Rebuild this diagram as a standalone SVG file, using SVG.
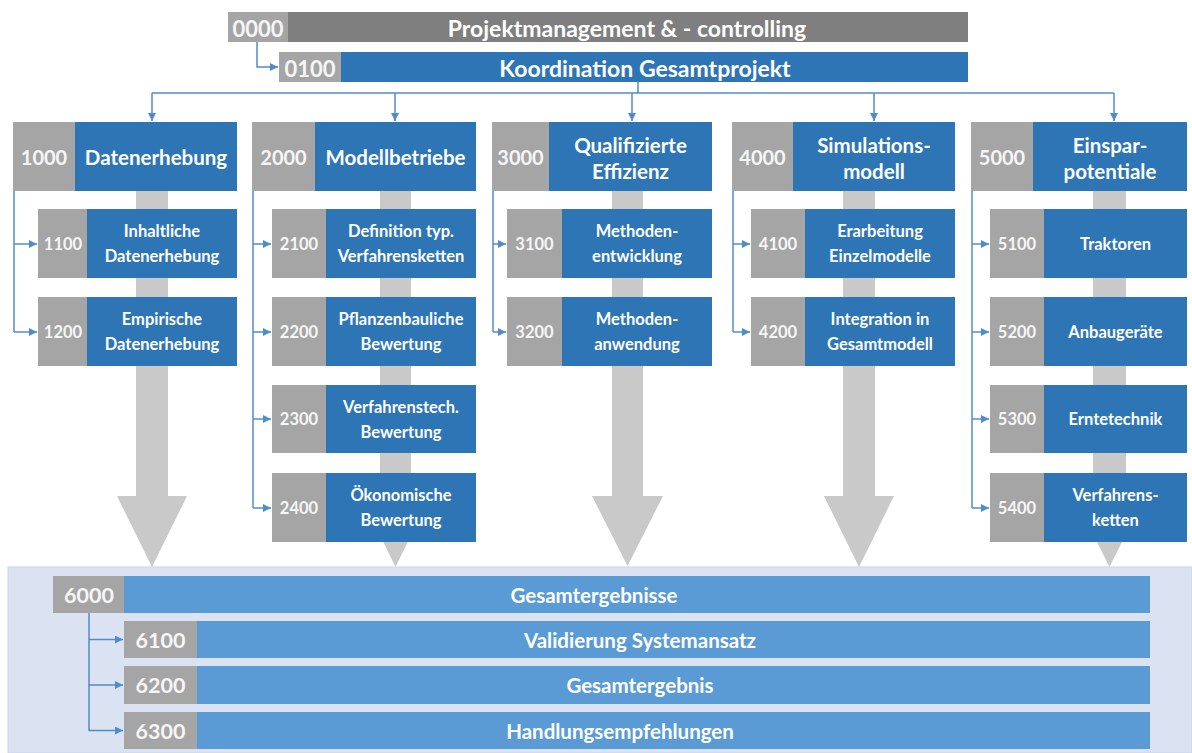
<svg xmlns="http://www.w3.org/2000/svg" width="1192" height="753" viewBox="0 0 1192 753">
<defs>
<marker id="ah" markerUnits="userSpaceOnUse" markerWidth="9" markerHeight="9" refX="8" refY="4" orient="auto">
<path d="M0,0 L8,4 L0,8 z" fill="#4f8ccb"/>
</marker>
<style>
.num{fill:#a5a5a5}
.blue{fill:#2e75b6}
.lblue{fill:#5b9bd5}
.dgray{fill:#7f7f7f}
.shaft{fill:#c9c9c9}
.t{font-family:Lato,"Liberation Sans",sans-serif;font-weight:bold;fill:#ffffff;text-anchor:middle;dominant-baseline:central}
.n{font-family:Lato,"Liberation Sans",sans-serif;font-weight:bold;fill:#f6f6f6;text-anchor:middle;dominant-baseline:central}
.t0{font-size:23px}
.n0{font-size:22px}
.t1{font-size:20.5px}
.n1{font-size:20px}
.t2{font-size:16.5px}
.n2{font-size:16.5px}
.tb{font-size:20.5px}
.nb{font-size:21.5px}
.conn{fill:none;stroke:#4f8ccb;stroke-width:1.5}
</style>
</defs>
<rect x="0" y="0" width="1192" height="753" fill="#ffffff"/>
<rect x="8" y="567" width="1184" height="186" fill="#dbe3f2" stroke="#c8d5ec" stroke-width="1"/>

<g id="bigarrows">
<polygon class="shaft" points="136,185 168,185 168,496 187,496 152,567 117,496 136,496"/>
<polygon class="shaft" points="380,185 411,185 411,496 430,496 395.5,567 361,496 380,496"/>
<polygon class="shaft" points="612,185 643,185 643,496 663,496 627.5,566 592,496 612,496"/>
<polygon class="shaft" points="843,185 875,185 875,496 894,496 859,567 824,496 843,496"/>
<polygon class="shaft" points="1093,185 1126,185 1126,496 1145,496 1109.5,567 1074,496 1093,496"/>
</g>

<g id="n0000">
<rect class="num" x="228" y="12" width="60" height="30"/>
<rect class="dgray" x="288" y="12" width="680" height="30"/>
<text class="n n0" x="258" y="28">0000</text>
<text class="t t0" x="627" y="28">Projektmanagement &amp; - controlling</text>
</g>
<g id="n0100">
<rect class="num" x="279" y="52" width="62" height="30"/>
<rect class="blue" x="341" y="52" width="627" height="30"/>
<text class="n n0" x="310" y="68">0100</text>
<text class="t t0" x="645" y="68">Koordination Gesamtprojekt</text>
</g>

<!-- Column 1 -->
<g id="n1000">
<rect class="num" x="13" y="122" width="62" height="69"/>
<rect class="blue" x="75" y="122" width="162" height="69"/>
<text class="n n1" x="44" y="157">1000</text>
<text class="t t1" x="156" y="157">Datenerhebung</text>
</g>
<g id="n1100">
<rect class="num" x="38" y="209" width="49" height="69"/>
<rect class="blue" x="87" y="209" width="150" height="69"/>
<text class="n n2" x="63" y="244">1100</text>
<text class="t t2" x="162" y="231">Inhaltliche</text>
<text class="t t2" x="162" y="256">Datenerhebung</text>
</g>
<g id="n1200">
<rect class="num" x="38" y="297" width="49" height="69"/>
<rect class="blue" x="87" y="297" width="150" height="69"/>
<text class="n n2" x="63" y="332">1200</text>
<text class="t t2" x="162" y="319">Empirische</text>
<text class="t t2" x="162" y="344">Datenerhebung</text>
</g>

<!-- Column 2 -->
<g id="n2000">
<rect class="num" x="252" y="122" width="63" height="69"/>
<rect class="blue" x="315" y="122" width="161" height="69"/>
<text class="n n1" x="283.5" y="157">2000</text>
<text class="t t1" x="395.5" y="157">Modellbetriebe</text>
</g>
<g id="n2100">
<rect class="num" x="272" y="209" width="54" height="69"/>
<rect class="blue" x="326" y="209" width="150" height="69"/>
<text class="n n2" x="299" y="244">2100</text>
<text class="t t2" x="401" y="231">Definition typ.</text>
<text class="t t2" x="401" y="256">Verfahrensketten</text>
</g>
<g id="n2200">
<rect class="num" x="272" y="297" width="54" height="69"/>
<rect class="blue" x="326" y="297" width="150" height="69"/>
<text class="n n2" x="299" y="332">2200</text>
<text class="t t2" x="401" y="319">Pflanzenbauliche</text>
<text class="t t2" x="401" y="344">Bewertung</text>
</g>
<g id="n2300">
<rect class="num" x="272" y="385" width="54" height="68"/>
<rect class="blue" x="326" y="385" width="150" height="68"/>
<text class="n n2" x="299" y="419">2300</text>
<text class="t t2" x="401" y="407">Verfahrenstech.</text>
<text class="t t2" x="401" y="432">Bewertung</text>
</g>
<g id="n2400">
<rect class="num" x="272" y="473" width="54" height="69"/>
<rect class="blue" x="326" y="473" width="150" height="69"/>
<text class="n n2" x="299" y="508">2400</text>
<text class="t t2" x="401" y="495">Ökonomische</text>
<text class="t t2" x="401" y="520">Bewertung</text>
</g>

<!-- Column 3 -->
<g id="n3000">
<rect class="num" x="492" y="122" width="57" height="69"/>
<rect class="blue" x="549" y="122" width="163" height="69"/>
<text class="n n1" x="520.5" y="157">3000</text>
<text class="t t1" x="630.5" y="145">Qualifizierte</text>
<text class="t t1" x="630.5" y="171">Effizienz</text>
</g>
<g id="n3100">
<rect class="num" x="507" y="209" width="55" height="69"/>
<rect class="blue" x="562" y="209" width="150" height="69"/>
<text class="n n2" x="534.5" y="244">3100</text>
<text class="t t2" x="637" y="231">Methoden-</text>
<text class="t t2" x="637" y="256">entwicklung</text>
</g>
<g id="n3200">
<rect class="num" x="507" y="297" width="55" height="69"/>
<rect class="blue" x="562" y="297" width="150" height="69"/>
<text class="n n2" x="534.5" y="332">3200</text>
<text class="t t2" x="637" y="319">Methoden-</text>
<text class="t t2" x="637" y="344">anwendung</text>
</g>

<!-- Column 4 -->
<g id="n4000">
<rect class="num" x="732" y="122" width="61" height="69"/>
<rect class="blue" x="793" y="122" width="162" height="69"/>
<text class="n n1" x="762.5" y="157">4000</text>
<text class="t t1" x="874" y="145">Simulations-</text>
<text class="t t1" x="874" y="171">modell</text>
</g>
<g id="n4100">
<rect class="num" x="751" y="209" width="54" height="69"/>
<rect class="blue" x="805" y="209" width="150" height="69"/>
<text class="n n2" x="778" y="244">4100</text>
<text class="t t2" x="880" y="231">Erarbeitung</text>
<text class="t t2" x="880" y="256">Einzelmodelle</text>
</g>
<g id="n4200">
<rect class="num" x="751" y="297" width="54" height="69"/>
<rect class="blue" x="805" y="297" width="150" height="69"/>
<text class="n n2" x="778" y="332">4200</text>
<text class="t t2" x="880" y="319">Integration in</text>
<text class="t t2" x="880" y="344">Gesamtmodell</text>
</g>

<!-- Column 5 -->
<g id="n5000">
<rect class="num" x="971" y="122" width="62" height="69"/>
<rect class="blue" x="1033" y="122" width="154" height="69"/>
<text class="n n1" x="1002" y="157">5000</text>
<text class="t t1" x="1110" y="145">Einspar-</text>
<text class="t t1" x="1110" y="171">potentiale</text>
</g>
<g id="n5100">
<rect class="num" x="990" y="209" width="54" height="69"/>
<rect class="blue" x="1044" y="209" width="143" height="69"/>
<text class="n n2" x="1017" y="244">5100</text>
<text class="t t2" x="1115.5" y="244">Traktoren</text>
</g>
<g id="n5200">
<rect class="num" x="990" y="297" width="54" height="69"/>
<rect class="blue" x="1044" y="297" width="143" height="69"/>
<text class="n n2" x="1017" y="332">5200</text>
<text class="t t2" x="1115.5" y="332">Anbaugeräte</text>
</g>
<g id="n5300">
<rect class="num" x="990" y="385" width="54" height="68"/>
<rect class="blue" x="1044" y="385" width="143" height="68"/>
<text class="n n2" x="1017" y="419">5300</text>
<text class="t t2" x="1115.5" y="419">Erntetechnik</text>
</g>
<g id="n5400">
<rect class="num" x="990" y="473" width="54" height="69"/>
<rect class="blue" x="1044" y="473" width="143" height="69"/>
<text class="n n2" x="1017" y="508">5400</text>
<text class="t t2" x="1115.5" y="495">Verfahrens-</text>
<text class="t t2" x="1115.5" y="520">ketten</text>
</g>

<!-- Bottom -->
<g id="n6000">
<rect class="num" x="53" y="576" width="71" height="37"/>
<rect class="lblue" x="124" y="576" width="1026" height="37"/>
<text class="n nb" x="89" y="594.5">6000</text>
<text class="t tb" x="594" y="594.5">Gesamtergebnisse</text>
</g>
<g id="n6100">
<rect class="num" x="124" y="621" width="73" height="37"/>
<rect class="lblue" x="197" y="621" width="953" height="37"/>
<text class="n nb" x="160.5" y="639.5">6100</text>
<text class="t tb" x="640" y="639.5">Validierung Systemansatz</text>
</g>
<g id="n6200">
<rect class="num" x="124" y="666" width="73" height="38"/>
<rect class="lblue" x="197" y="666" width="953" height="38"/>
<text class="n nb" x="160.5" y="685">6200</text>
<text class="t tb" x="640" y="685">Gesamtergebnis</text>
</g>
<g id="n6300">
<rect class="num" x="124" y="712" width="73" height="37"/>
<rect class="lblue" x="197" y="712" width="953" height="37"/>
<text class="n nb" x="160.5" y="730.5">6300</text>
<text class="t tb" x="620" y="730.5">Handlungsempfehlungen</text>
</g>

<g id="connectors">
<path class="conn" d="M257,42 V67 H278" marker-end="url(#ah)"/>
<path class="conn" d="M638,82 V93"/>
<path class="conn" d="M152,93 H1114"/>
<path class="conn" d="M152,93 V121" marker-end="url(#ah)"/>
<path class="conn" d="M395,93 V121" marker-end="url(#ah)"/>
<path class="conn" d="M632,93 V121" marker-end="url(#ah)"/>
<path class="conn" d="M874,93 V121" marker-end="url(#ah)"/>
<path class="conn" d="M1114,93 V121" marker-end="url(#ah)"/>

<path class="conn" d="M14,191 V332"/>
<path class="conn" d="M14,244 H37" marker-end="url(#ah)"/>
<path class="conn" d="M14,332 H37" marker-end="url(#ah)"/>

<path class="conn" d="M253,191 V508"/>
<path class="conn" d="M253,244 H271" marker-end="url(#ah)"/>
<path class="conn" d="M253,332 H271" marker-end="url(#ah)"/>
<path class="conn" d="M253,419 H271" marker-end="url(#ah)"/>
<path class="conn" d="M253,508 H271" marker-end="url(#ah)"/>

<path class="conn" d="M493,191 V332"/>
<path class="conn" d="M493,244 H506" marker-end="url(#ah)"/>
<path class="conn" d="M493,332 H506" marker-end="url(#ah)"/>

<path class="conn" d="M733,191 V332"/>
<path class="conn" d="M733,244 H750" marker-end="url(#ah)"/>
<path class="conn" d="M733,332 H750" marker-end="url(#ah)"/>

<path class="conn" d="M972,191 V508"/>
<path class="conn" d="M972,244 H989" marker-end="url(#ah)"/>
<path class="conn" d="M972,332 H989" marker-end="url(#ah)"/>
<path class="conn" d="M972,419 H989" marker-end="url(#ah)"/>
<path class="conn" d="M972,508 H989" marker-end="url(#ah)"/>

<path class="conn" d="M89,613 V731"/>
<path class="conn" d="M89,639.5 H123" marker-end="url(#ah)"/>
<path class="conn" d="M89,685 H123" marker-end="url(#ah)"/>
<path class="conn" d="M89,730.5 H123" marker-end="url(#ah)"/>
</g>
</svg>
